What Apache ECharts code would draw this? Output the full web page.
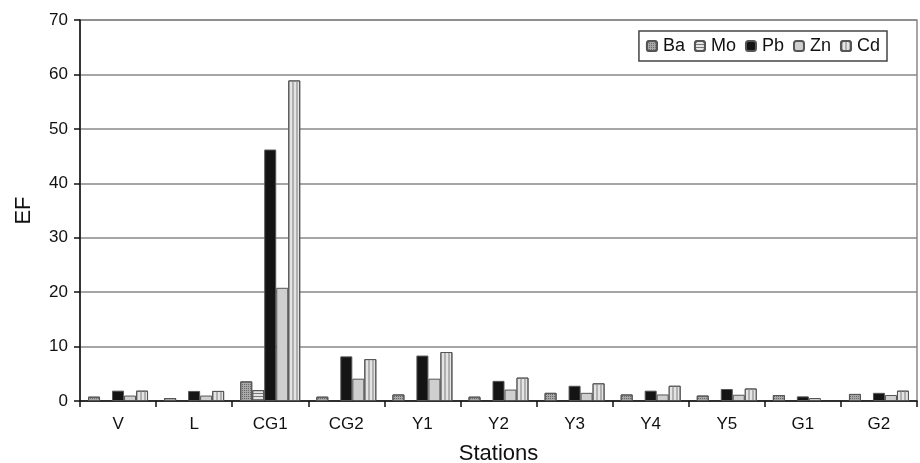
<!DOCTYPE html>
<html>
<head>
<meta charset="utf-8">
<script src="https://cdn.jsdelivr.net/npm/echarts@6/dist/echarts.min.js"></script>
<style>
html,body{margin:0;padding:0;background:#fff;}
#chart{width:920px;height:463px;}
</style>
</head>
<body>
<div id="chart"></div>
<script>
const categories = ['V', 'L', 'CG1', 'CG2', 'Y1', 'Y2', 'Y3', 'Y4', 'Y5', 'G1', 'G2'];
const ba = [0.8, 0.55, 3.6, 0.8, 1.2, 0.8, 1.5, 1.2, 1.0, 1.1, 1.3];
const mo = [null, null, 2.0, null, null, null, null, null, null, null, null];
const pb = [1.9, 1.85, 46.2, 8.2, 8.35, 3.7, 2.8, 1.9, 2.2, 0.85, 1.5];
const zn = [1.0, 1.0, 20.8, 4.1, 4.1, 2.1, 1.5, 1.2, 1.15, 0.55, 1.1];
const cd = [1.9, 1.85, 58.9, 7.7, 9.0, 4.3, 3.25, 2.8, 2.3, null, 1.9];
const yTicks = [0, 10, 20, 30, 40, 50, 60, 70];

const FONT = '"Liberation Sans", Arial, sans-serif';
const chart = echarts.init(document.getElementById('chart'), null, {renderer: 'canvas'});

function bar(name, data, color, decal) {
  const s = {
    name: name,
    type: 'bar',
    data: data,
    barWidth: 12,
    barGap: '0%',
    itemStyle: {color: color, borderColor: '#555', borderWidth: 1}
  };
  if (decal) s.itemStyle.decal = decal;
  return s;
}

chart.setOption({
  animation: false,
  backgroundColor: '#fff',
  textStyle: {fontFamily: FONT},
  grid: {left: 80, right: 3, top: 20, bottom: 62, show: true, borderColor: '#888', borderWidth: 1.5,
         containLabel: false, outerBoundsMode: 'none'},
  legend: {
    right: 33, top: 31,
    itemWidth: 10, itemHeight: 10, itemGap: 9,
    padding: [6, 7, 6, 7],
    borderColor: '#444', borderWidth: 1.5,
    textStyle: {fontSize: 18, color: '#111', fontFamily: FONT, padding: [0, 0, 0, 1]},
    data: ['Ba', 'Mo', 'Pb', 'Zn', 'Cd']
  },
  xAxis: {
    type: 'category',
    data: categories,
    name: 'Stations',
    nameLocation: 'middle',
    nameGap: 42,
    nameTextStyle: {fontSize: 22, color: '#111', fontFamily: FONT},
    axisLine: {lineStyle: {color: '#111', width: 1.5}},
    axisTick: {show: true, length: 6, lineStyle: {color: '#111', width: 1.5}},
    axisLabel: {fontSize: 17, color: '#111', margin: 15, fontFamily: FONT}
  },
  yAxis: {
    type: 'value',
    min: yTicks[0], max: yTicks[yTicks.length - 1], interval: 10,
    name: 'EF',
    nameLocation: 'middle',
    nameGap: 45,
    nameRotate: 90,
    nameTextStyle: {fontSize: 22, color: '#111', fontFamily: FONT},
    axisLine: {show: true, lineStyle: {color: '#111', width: 1.5}},
    axisTick: {show: true, length: 6, lineStyle: {color: '#111', width: 1.5}},
    axisLabel: {fontSize: 17, color: '#111', margin: 12, fontFamily: FONT},
    splitLine: {show: true, lineStyle: {color: '#888', width: 1.5}}
  },
  series: [
    bar('Ba', ba, '#a8a8a8', {symbol: 'rect', symbolSize: 1, dashArrayX: [1, 1], dashArrayY: [1, 1], color: '#6a6a6a'}),
    bar('Mo', mo, '#e6e6e6', {symbol: 'rect', symbolSize: 1, dashArrayX: [1, 0], dashArrayY: [1, 2], color: '#777'}),
    bar('Pb', pb, '#141414'),
    bar('Zn', zn, '#cfcfcf'),
    bar('Cd', cd, '#e4e4e4', {symbol: 'rect', symbolSize: 1, dashArrayX: [2, 2], dashArrayY: [1, 0], color: '#b0b0b0'})
  ]
});
</script>
</body>
</html>
